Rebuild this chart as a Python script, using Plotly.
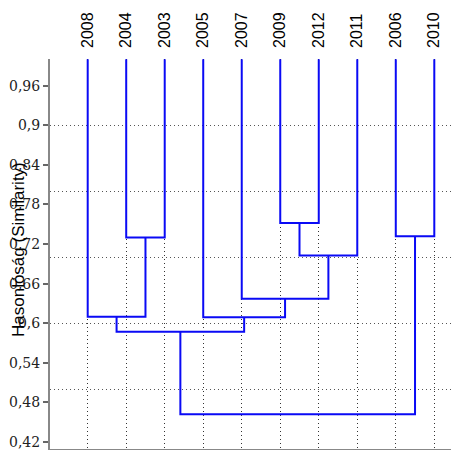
import plotly.graph_objects as go

# ---- data ----
leaves = ["2008", "2004", "2003", "2005", "2007", "2009", "2012", "2011", "2006", "2010"]
leaf_similarity = 1.0
# merges: indices < 10 are leaves, >= 10 are earlier merges (10 + merge index)
merge_left = [1, 5, 11, 8, 4, 0, 3, 15, 17]
merge_right = [2, 6, 7, 9, 12, 10, 14, 16, 13]
merge_height = [0.730, 0.752, 0.7025, 0.732, 0.637, 0.610, 0.609, 0.587, 0.462]
y_ticks = [0.42, 0.48, 0.54, 0.60, 0.66, 0.72, 0.78, 0.84, 0.90, 0.96]
y_ticktext = ["0,42", "0,48", "0,54", "0,6", "0,66", "0,72", "0,78", "0,84", "0,9", "0,96"]
y_title = "Hasonlóság (Similarity)"

# ---- build dendrogram segments ----
pos = {i: (float(i), leaf_similarity) for i in range(len(leaves))}
xs, ys = [], []
for k, (a, b, h) in enumerate(zip(merge_left, merge_right, merge_height)):
    xa, ya = pos[a]
    xb, yb = pos[b]
    xs += [xa, xa, xb, xb, None]
    ys += [ya, h, h, yb, None]
    pos[len(leaves) + k] = ((xa + xb) / 2, h)

fig = go.Figure()
fig.add_trace(go.Scatter(x=xs, y=ys, mode="lines",
                         line=dict(color="#0a0af5", width=2),
                         hoverinfo="skip", showlegend=False))
# invisible trace to anchor top label axis
fig.add_trace(go.Scatter(x=list(range(len(leaves))), y=[leaf_similarity] * len(leaves),
                         xaxis="x2", mode="markers", marker=dict(opacity=0),
                         hoverinfo="skip", showlegend=False))
# invisible trace for secondary grid axis
fig.add_trace(go.Scatter(x=[0], y=[leaf_similarity], yaxis="y2", mode="markers",
                         marker=dict(opacity=0), hoverinfo="skip", showlegend=False))

xr = [-0.979, 9.434]
yr = [0.4094, 1.0005]

fig.update_layout(
    width=451, height=450,
    margin=dict(l=50, r=0, t=59, b=1),
    plot_bgcolor="white", paper_bgcolor="white",
    xaxis=dict(range=xr, tickvals=list(range(len(leaves))), showticklabels=False,
               ticks="", showgrid=True, gridcolor="#333333", griddash="1px,3px", gridwidth=1,
               showline=True, linecolor="#888888", linewidth=2, zeroline=False),
    xaxis2=dict(range=xr, overlaying="x", side="top", anchor="y",
                tickvals=list(range(len(leaves))), ticktext=leaves, tickangle=-90,
                ticks="", ticklabelstandoff=10, showgrid=False, showline=False, zeroline=False,
                ticklabeloverflow="allow",
                tickfont=dict(family="Liberation Sans", size=16, color="black")),
    yaxis=dict(range=yr, tickvals=y_ticks, ticktext=y_ticktext, ticks="outside", ticklen=5,
               tickcolor="#666666", tickwidth=1.5, showgrid=False, zeroline=False,
               showline=True, linecolor="#888888", linewidth=2, ticklabeloverflow="allow",
               tickfont=dict(family="DejaVu Serif", size=14, color="#222222")),
    yaxis2=dict(range=yr, overlaying="y", side="left", dtick=0.1, tick0=0,
                showticklabels=False, ticks="", showgrid=True, gridcolor="#555555",
                griddash="1px,3px", gridwidth=1, zeroline=False, showline=False),
    annotations=[dict(text=y_title, xref="paper", yref="paper",
                      x=(18 - 50) / 401, y=(449 - 250) / 390, xanchor="center", yanchor="middle",
                      textangle=-90, showarrow=False,
                      font=dict(family="Liberation Sans", size=17, color="black"))],
)

fig.write_html("out.html", config={"displayModeBar": False},
               post_script="document.body.style.margin='0';document.body.style.padding='0';")
